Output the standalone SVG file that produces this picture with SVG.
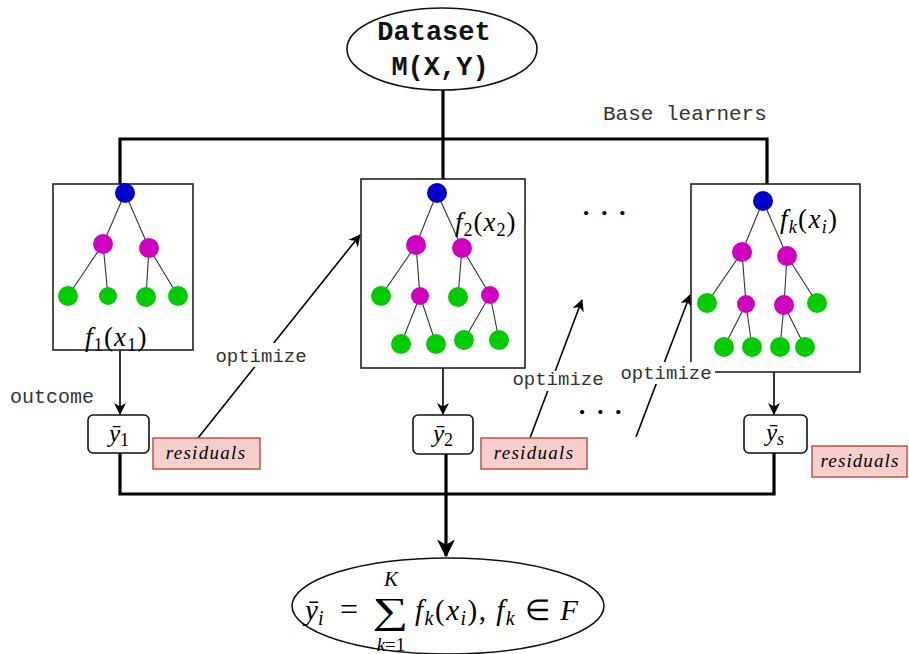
<svg xmlns="http://www.w3.org/2000/svg" width="909" height="654" viewBox="0 0 909 654">
<style>
.box{fill:#fff;stroke:#222;stroke-width:1.6}
.out{fill:#fff;stroke:#111;stroke-width:1.6}
.res{fill:#f8cecc;stroke:#b85450;stroke-width:1.5}
.bus{fill:none;stroke:#000;stroke-width:3.2}
.arr{fill:none;stroke:#000;stroke-width:1.6}
.e{stroke:#333;stroke-width:1.1}
.b{fill:#0000cc}.m{fill:#d000c0}.g{fill:#00cc00}
.mono{font-family:"Liberation Mono","Courier New",monospace;fill:#333}
.math{font-family:"Liberation Serif","Times New Roman",serif;fill:#000}
.it{font-style:italic}
.lbl{fill:#fff}
</style>
<defs>
<marker id="ah" viewBox="0 0 12 12" refX="11" refY="6" markerWidth="12" markerHeight="12" markerUnits="userSpaceOnUse" orient="auto"><path d="M0,0 L12,6 L0,12 L3.5,6 z" fill="#000"/></marker>
<marker id="ahBig" viewBox="0 0 12 12" refX="11" refY="6" markerWidth="18" markerHeight="18" markerUnits="userSpaceOnUse" orient="auto"><path d="M0,0 L12,6 L0,12 L3.5,6 z" fill="#000"/></marker>
</defs>

<g id="connectors">
<path class="bus" d="M443,90 V180"/>
<path class="bus" d="M120,184 V139 H767 V184"/>
<path class="bus" d="M120,453 V494 H774 V453"/>
<path class="bus" d="M446,454 V556" marker-end="url(#ahBig)"/>
<path class="arr" d="M120,350 V414" marker-end="url(#ah)"/>
<path class="arr" d="M443,368 V414" marker-end="url(#ah)"/>
<path class="arr" d="M774,372 V414" marker-end="url(#ah)"/>
<path class="arr" d="M198,438 L360,235" marker-end="url(#ah)"/>
<path class="arr" d="M530,438 L582,300" marker-end="url(#ah)"/>
<path class="arr" d="M636,437 L690,295" marker-end="url(#ah)"/>
</g>

<g id="dataset">
<ellipse cx="442" cy="49" rx="95" ry="41" fill="#fff" stroke="#111" stroke-width="1.6"/>
<text x="434" y="40" text-anchor="middle" font-family="Liberation Mono, Courier New, monospace" font-weight="bold" font-size="27" fill="#111">Dataset</text>
<text x="440" y="75" text-anchor="middle" font-family="Liberation Mono, Courier New, monospace" font-weight="bold" font-size="27" fill="#111">M(X,Y)</text>
</g>

<g id="tree1">
<rect class="box" x="53" y="184" width="140" height="166"/>
<line class="e" x1="125" y1="193" x2="103" y2="244"/><line class="e" x1="125" y1="193" x2="149" y2="248"/>
<line class="e" x1="103" y1="244" x2="68" y2="296"/><line class="e" x1="103" y1="244" x2="108" y2="296"/>
<line class="e" x1="149" y1="248" x2="146" y2="297"/><line class="e" x1="149" y1="248" x2="178" y2="296"/>
<circle class="b" cx="125" cy="193" r="10"/>
<circle class="m" cx="103" cy="244" r="10"/><circle class="m" cx="149" cy="248" r="10"/>
<circle class="g" cx="68" cy="296" r="10"/><circle class="g" cx="108" cy="296" r="9"/><circle class="g" cx="146" cy="297" r="10"/><circle class="g" cx="178" cy="296" r="10"/>
<text class="math" x="85" y="346" font-size="27" letter-spacing="1.2"><tspan class="it">f</tspan><tspan font-size="18" dy="5">1</tspan><tspan dy="-5">(</tspan><tspan class="it">x</tspan><tspan font-size="18" dy="5">1</tspan><tspan dy="-5">)</tspan></text>
</g>

<g id="tree2">
<rect class="box" x="361" y="179" width="164" height="189"/>
<line class="e" x1="437" y1="193" x2="416" y2="245"/><line class="e" x1="437" y1="193" x2="462" y2="248"/>
<line class="e" x1="416" y1="245" x2="381" y2="296"/><line class="e" x1="416" y1="245" x2="420" y2="296"/>
<line class="e" x1="462" y1="248" x2="458" y2="297"/><line class="e" x1="462" y1="248" x2="490" y2="295"/>
<line class="e" x1="420" y1="296" x2="401" y2="344"/><line class="e" x1="420" y1="296" x2="436" y2="344"/>
<line class="e" x1="490" y1="295" x2="464" y2="340"/><line class="e" x1="490" y1="295" x2="499" y2="340"/>
<circle class="b" cx="437" cy="193" r="10"/>
<circle class="m" cx="416" cy="245" r="10"/><circle class="m" cx="462" cy="248" r="10"/>
<circle class="g" cx="381" cy="296" r="10"/><circle class="m" cx="420" cy="296" r="9"/><circle class="g" cx="458" cy="297" r="10"/><circle class="m" cx="490" cy="295" r="9"/>
<circle class="g" cx="401" cy="344" r="10"/><circle class="g" cx="436" cy="344" r="10"/><circle class="g" cx="464" cy="340" r="10"/><circle class="g" cx="499" cy="340" r="10"/>
<text class="math" x="455" y="231" font-size="27" letter-spacing="1"><tspan class="it">f</tspan><tspan font-size="18" dy="5">2</tspan><tspan dy="-5">(</tspan><tspan class="it">x</tspan><tspan font-size="18" dy="5">2</tspan><tspan dy="-5">)</tspan></text>
</g>

<g id="tree3">
<rect class="box" x="691" y="184" width="169" height="188"/>
<line class="e" x1="763" y1="201" x2="742" y2="252"/><line class="e" x1="763" y1="201" x2="787" y2="256"/>
<line class="e" x1="742" y1="252" x2="707" y2="303"/><line class="e" x1="742" y1="252" x2="746" y2="304"/>
<line class="e" x1="787" y1="256" x2="784" y2="305"/><line class="e" x1="787" y1="256" x2="817" y2="303"/>
<line class="e" x1="746" y1="304" x2="724" y2="347"/><line class="e" x1="746" y1="304" x2="752" y2="347"/>
<line class="e" x1="784" y1="305" x2="780" y2="347"/><line class="e" x1="784" y1="305" x2="805" y2="347"/>
<circle class="b" cx="763" cy="201" r="10"/>
<circle class="m" cx="742" cy="252" r="10"/><circle class="m" cx="787" cy="256" r="10"/>
<circle class="g" cx="707" cy="303" r="10"/><circle class="m" cx="746" cy="304" r="9"/><circle class="m" cx="784" cy="305" r="10"/><circle class="g" cx="817" cy="303" r="10"/>
<circle class="g" cx="724" cy="347" r="10"/><circle class="g" cx="752" cy="347" r="10"/><circle class="g" cx="780" cy="347" r="10"/><circle class="g" cx="805" cy="347" r="10"/>
<text class="math" x="780" y="228" font-size="27" letter-spacing="1.3"><tspan class="it">f</tspan><tspan class="it" font-size="18" dy="5">k</tspan><tspan dy="-5">(</tspan><tspan class="it">x</tspan><tspan class="it" font-size="18" dy="5">i</tspan><tspan dy="-5">)</tspan></text>
</g>

<g id="y1">
<rect class="out" x="88" y="415" width="61" height="38" rx="5"/>
<text class="math" x="119" y="442" text-anchor="middle" font-size="25"><tspan class="it">ȳ</tspan><tspan font-size="18" dy="4">1</tspan></text>
</g>
<g id="y2">
<rect class="out" x="413" y="415" width="60" height="39" rx="5"/>
<text class="math" x="443" y="442" text-anchor="middle" font-size="25"><tspan class="it">ȳ</tspan><tspan font-size="18" dy="4">2</tspan></text>
</g>
<g id="ys">
<rect class="out" x="744" y="415" width="63" height="38" rx="5"/>
<text class="math" x="775" y="441" text-anchor="middle" font-size="25"><tspan class="it">ȳ</tspan><tspan class="it" font-size="18" dy="4">s</tspan></text>
</g>

<g id="residuals1">
<rect class="res" x="153" y="438" width="107" height="31"/>
<text class="math it" x="206" y="459" text-anchor="middle" font-size="19" letter-spacing="1.3">residuals</text>
</g>
<g id="residuals2">
<rect class="res" x="481" y="438" width="106" height="31"/>
<text class="math it" x="534" y="459" text-anchor="middle" font-size="19" letter-spacing="1.3">residuals</text>
</g>
<g id="residuals3">
<rect class="res" x="812" y="446" width="95" height="31"/>
<text class="math it" x="860" y="467" text-anchor="middle" font-size="19" letter-spacing="1.1">residuals</text>
</g>

<g id="labels">
<rect class="lbl" x="211" y="343" width="100" height="24"/>
<text class="mono" x="261" y="362" text-anchor="middle" font-size="19">optimize</text>
<rect class="lbl" x="508" y="371" width="100" height="20"/>
<text class="mono" x="558" y="385" text-anchor="middle" font-size="19">optimize</text>
<rect class="lbl" x="616" y="362" width="99" height="22"/>
<text class="mono" x="666" y="379" text-anchor="middle" font-size="19">optimize</text>
<text class="mono" x="10" y="403" font-size="20">outcome</text>
<text class="mono" x="603" y="120" font-size="21">Base learners</text>
<text class="math" x="605" y="221" text-anchor="middle" font-size="26" font-weight="bold" letter-spacing="1.5">· · ·</text>
<text class="math" x="601" y="420" text-anchor="middle" font-size="26" font-weight="bold" letter-spacing="1.5">· · ·</text>
</g>

<g id="result">
<ellipse cx="448" cy="606" rx="156" ry="48" fill="#fff" stroke="#111" stroke-width="1.6"/>
<text class="math" x="305" y="620" font-size="29"><tspan class="it">ȳ</tspan><tspan class="it" font-size="20" dy="5">i</tspan></text>
<text class="math" x="349" y="620" text-anchor="middle" font-size="32">=</text>
<text class="math" transform="translate(390,623) scale(1.35,1)" x="0" y="0" text-anchor="middle" font-size="37">∑</text>
<text class="math it" x="391" y="586" text-anchor="middle" font-size="21">K</text>
<text class="math" x="391" y="651" text-anchor="middle" font-size="19"><tspan class="it">k</tspan>=1</text>
<text class="math" x="415" y="620" font-size="29" letter-spacing="1.5"><tspan class="it">f</tspan><tspan class="it" font-size="20" dy="5">k</tspan><tspan dy="-5">(</tspan><tspan class="it">x</tspan><tspan class="it" font-size="20" dy="5">i</tspan><tspan dy="-5">), </tspan><tspan class="it">f</tspan><tspan class="it" font-size="20" dy="5">k</tspan><tspan dy="-5"> ∈ </tspan><tspan class="it">F</tspan></text>
</g>
</svg>
